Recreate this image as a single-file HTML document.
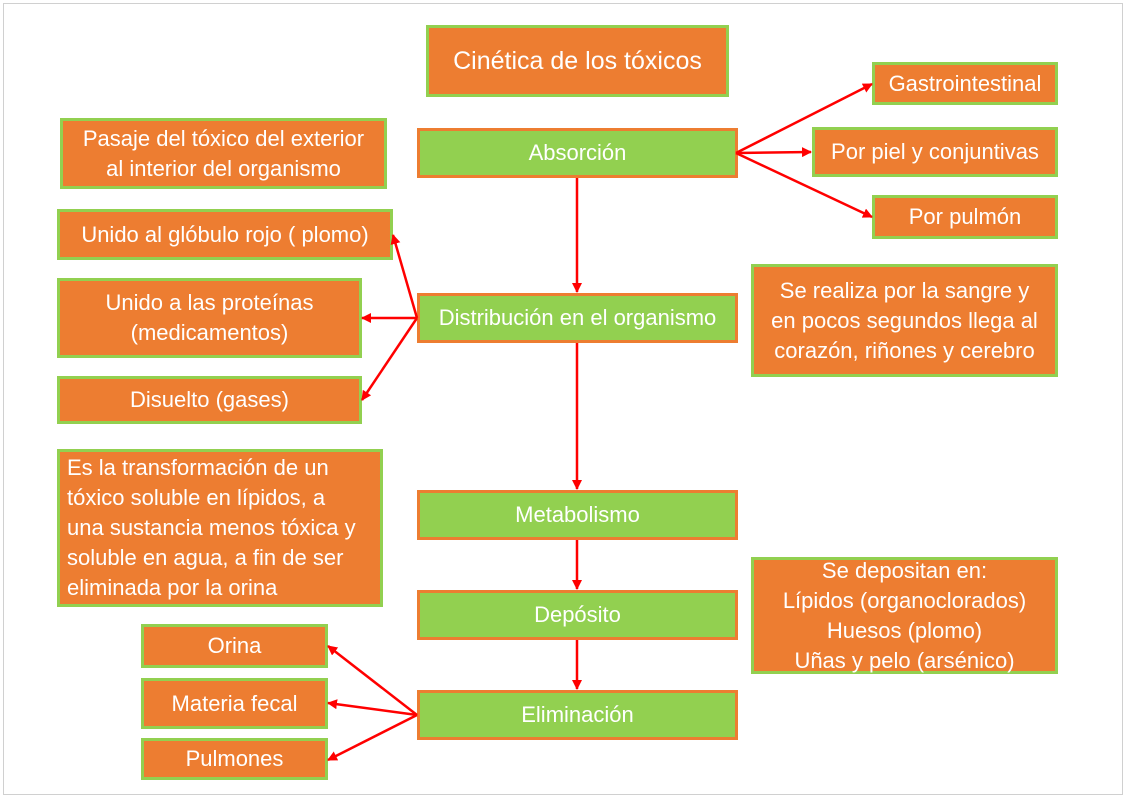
<!DOCTYPE html>
<html><head><meta charset="utf-8"><style>
html,body{margin:0;padding:0;background:#fff;}
body{width:1128px;height:800px;position:relative;overflow:hidden;font-family:"Liberation Sans",sans-serif;}
.frame{position:absolute;left:3px;top:3px;width:1120px;height:792px;border:1px solid #d0d0d0;box-sizing:border-box;}
.b{position:absolute;box-sizing:border-box;border:3px solid #92D050;background:#ED7D31;color:#fff;display:flex;align-items:center;justify-content:center;text-align:center;font-size:22px;line-height:30px;white-space:nowrap;}
.g{background:#92D050;border-color:#ED7D31;}
svg{position:absolute;left:0;top:0;}
</style></head><body>
<div class="frame"></div>
<div class="b" style="left:426px;top:25px;width:303px;height:72px;font-size:25px;">Cinética de los tóxicos</div>
<div class="b g" style="left:417px;top:128px;width:321px;height:50px;">Absorción</div>
<div class="b" style="left:872px;top:62px;width:186px;height:43px;">Gastrointestinal</div>
<div class="b" style="left:812px;top:127px;width:246px;height:50px;">Por piel y conjuntivas</div>
<div class="b" style="left:872px;top:195px;width:186px;height:44px;">Por pulmón</div>
<div class="b" style="left:60px;top:118px;width:327px;height:71px;">Pasaje del tóxico del exterior<br>al interior del organismo</div>
<div class="b" style="left:57px;top:209px;width:336px;height:51px;">Unido al glóbulo rojo ( plomo)</div>
<div class="b" style="left:57px;top:278px;width:305px;height:80px;">Unido a las proteínas<br>(medicamentos)</div>
<div class="b" style="left:57px;top:376px;width:305px;height:48px;">Disuelto (gases)</div>
<div class="b g" style="left:417px;top:293px;width:321px;height:50px;">Distribución en el organismo</div>
<div class="b" style="left:751px;top:264px;width:307px;height:113px;">Se realiza por la sangre y<br>en pocos segundos llega al<br>corazón, riñones y cerebro</div>
<div class="b" style="left:57px;top:449px;width:326px;height:158px;justify-content:flex-start;text-align:left;padding-left:7px;">Es la transformación de un<br>tóxico soluble en lípidos, a<br>una sustancia menos tóxica y<br>soluble en agua, a fin de ser<br>eliminada por la orina</div>
<div class="b g" style="left:417px;top:490px;width:321px;height:50px;">Metabolismo</div>
<div class="b g" style="left:417px;top:590px;width:321px;height:50px;">Depósito</div>
<div class="b" style="left:751px;top:557px;width:307px;height:117px;">Se depositan en:<br>Lípidos (organoclorados)<br>Huesos (plomo)<br>Uñas y pelo (arsénico)</div>
<div class="b g" style="left:417px;top:690px;width:321px;height:50px;">Eliminación</div>
<div class="b" style="left:141px;top:624px;width:187px;height:44px;">Orina</div>
<div class="b" style="left:141px;top:678px;width:187px;height:51px;">Materia fecal</div>
<div class="b" style="left:141px;top:738px;width:187px;height:42px;">Pulmones</div>
<svg width="1128" height="800">
<defs><marker id="a" markerWidth="10" markerHeight="10" refX="9" refY="5" orient="auto" markerUnits="userSpaceOnUse"><path d="M0,0 L10,5 L0,10 z" fill="#f00"/></marker></defs>
<g stroke="#f00" stroke-width="2.5" fill="none" marker-end="url(#a)">
<line x1="736" y1="153" x2="872" y2="84"/>
<line x1="736" y1="153" x2="811" y2="152"/>
<line x1="736" y1="153" x2="872" y2="217"/>
<line x1="577" y1="178" x2="577" y2="292"/>
<line x1="577" y1="343" x2="577" y2="489"/>
<line x1="577" y1="540" x2="577" y2="589"/>
<line x1="577" y1="640" x2="577" y2="689"/>
<line x1="417" y1="318" x2="393" y2="235"/>
<line x1="417" y1="318" x2="362" y2="318"/>
<line x1="417" y1="318" x2="362" y2="400"/>
<line x1="417" y1="715" x2="328" y2="646"/>
<line x1="417" y1="715" x2="328" y2="703"/>
<line x1="417" y1="715" x2="328" y2="760"/>
</g></svg>
</body></html>
